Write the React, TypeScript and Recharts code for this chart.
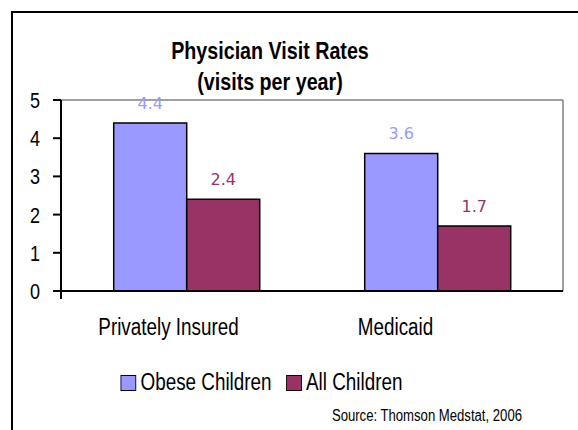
import { BarChart, Bar, XAxis, YAxis, CartesianGrid, LabelList } from 'recharts';

const categories = ['Privately Insured', 'Medicaid'];
const obeseChildren = [4.4, 3.6];
const allChildren = [2.4, 1.7];
const yTicks = [0, 1, 2, 3, 4, 5];
const edgeTicks = [0, 1, 2];

const data = categories.map((name, i) => ({ name, obese: obeseChildren[i], all: allChildren[i] }));

// no Arial Narrow here, so squeeze Liberation Sans horizontally instead
const FONT = '"Liberation Sans", Arial, sans-serif';
const SQUEEZE = 0.82;
const BLUE = '#9999FF';
const PLUM = '#993366';

// category labels sit a little left of the band centres in the original
const LABEL_SHIFT = [-18, -42];

function CategoryTick(props: any) {
  const { x, y, payload, index } = props;
  return (
    <text
      transform={`translate(${x + (LABEL_SHIFT[index] ?? 0)},${y + 44}) scale(${SQUEEZE},1)`}
      textAnchor="middle"
      fill="#000"
      fontSize={23}
      fontFamily={FONT}
    >
      {payload.value}
    </text>
  );
}

function ValueTick(props: any) {
  const { x, y, payload } = props;
  return (
    <text transform={`translate(${x},${y + 8}) scale(${SQUEEZE},1)`} textAnchor="end" fill="#000" fontSize={22} fontFamily={FONT}>
      {payload.value}
    </text>
  );
}

const NoTick = () => <g />;

function LegendItem({ color, label }: { color: string; label: string }) {
  return (
    <div style={{ display: 'flex', alignItems: 'center', marginRight: 18 }}>
      <div style={{ width: 17, height: 14, background: color, border: '1px solid #000', marginRight: 5 }} />
      <span>{label}</span>
    </div>
  );
}

export default function App() {
  return (
    <div style={{ position: 'absolute', left: 0, top: 0, width: 578, height: 430, overflow: 'hidden', background: '#fff', fontFamily: FONT }}>
      <div style={{ position: 'absolute', left: 11, top: 11, width: 620, height: 520, border: '2px solid #000' }} />
      <div
        style={{
          position: 'absolute', left: 0, top: 35, width: 540, textAlign: 'center', fontSize: 24, fontWeight: 'bold',
          lineHeight: '31px', color: '#000', transform: `scaleX(${SQUEEZE})`, transformOrigin: '270px 0',
        }}
      >
        Physician Visit Rates
        <br />
        (visits per year)
      </div>
      <div style={{ position: 'absolute', left: 0, top: 0 }}>
        <BarChart width={578} height={430} data={data} margin={{ top: 100, right: 15, left: 0, bottom: 109 }} barGap={0} barCategoryGap="21%">
          <CartesianGrid
            stroke="#808080"
            strokeWidth={1.5}
            horizontalCoordinatesGenerator={({ offset }: any) => [offset.top]}
            verticalCoordinatesGenerator={({ offset }: any) => [offset.left + offset.width]}
          />
          <XAxis
            dataKey="name"
            height={1}
            axisLine={{ stroke: '#000', strokeWidth: 2 }}
            tickLine={false}
            tickSize={0}
            tickMargin={0}
            tick={<CategoryTick />}
            interval={0}
          />
          <XAxis
            xAxisId="edge"
            type="number"
            domain={[0, 2]}
            ticks={edgeTicks}
            height={29}
            tick={<NoTick />}
            tickSize={7}
            axisLine={false}
            tickLine={{ stroke: '#000', strokeWidth: 2 }}
          />
          <YAxis
            width={61}
            domain={[0, 5]}
            ticks={yTicks}
            tickSize={8}
            tickMargin={13}
            axisLine={{ stroke: '#000', strokeWidth: 2 }}
            tickLine={{ stroke: '#000', strokeWidth: 2 }}
            tick={<ValueTick />}
          />
          <Bar dataKey="obese" fill={BLUE} stroke="#000" strokeWidth={1.5} isAnimationActive={false}>
            <LabelList dataKey="obese" position="top" offset={14} fill={BLUE} fontSize={16} fontFamily="DejaVu Sans" />
          </Bar>
          <Bar dataKey="all" fill={PLUM} stroke="#000" strokeWidth={1.5} isAnimationActive={false}>
            <LabelList dataKey="all" position="top" offset={14} fill={PLUM} fontSize={16} fontFamily="DejaVu Sans" />
          </Bar>
        </BarChart>
      </div>
      <div
        style={{
          position: 'absolute', left: 0, top: 371, width: 538, height: 23, display: 'flex', justifyContent: 'center',
          alignItems: 'center', fontSize: 23, lineHeight: '23px', color: '#000', transform: `scaleX(${SQUEEZE})`, transformOrigin: '269px 0',
        }}
      >
        <LegendItem color={BLUE} label="Obese Children" />
        <LegendItem color={PLUM} label="All Children" />
      </div>
      <div
        style={{
          position: 'absolute', left: 0, top: 408, width: 522, textAlign: 'right', fontSize: 16, lineHeight: '16px',
          color: '#000', transform: `scaleX(${SQUEEZE})`, transformOrigin: '522px 0',
        }}
      >
        Source: Thomson Medstat, 2006
      </div>
    </div>
  );
}
